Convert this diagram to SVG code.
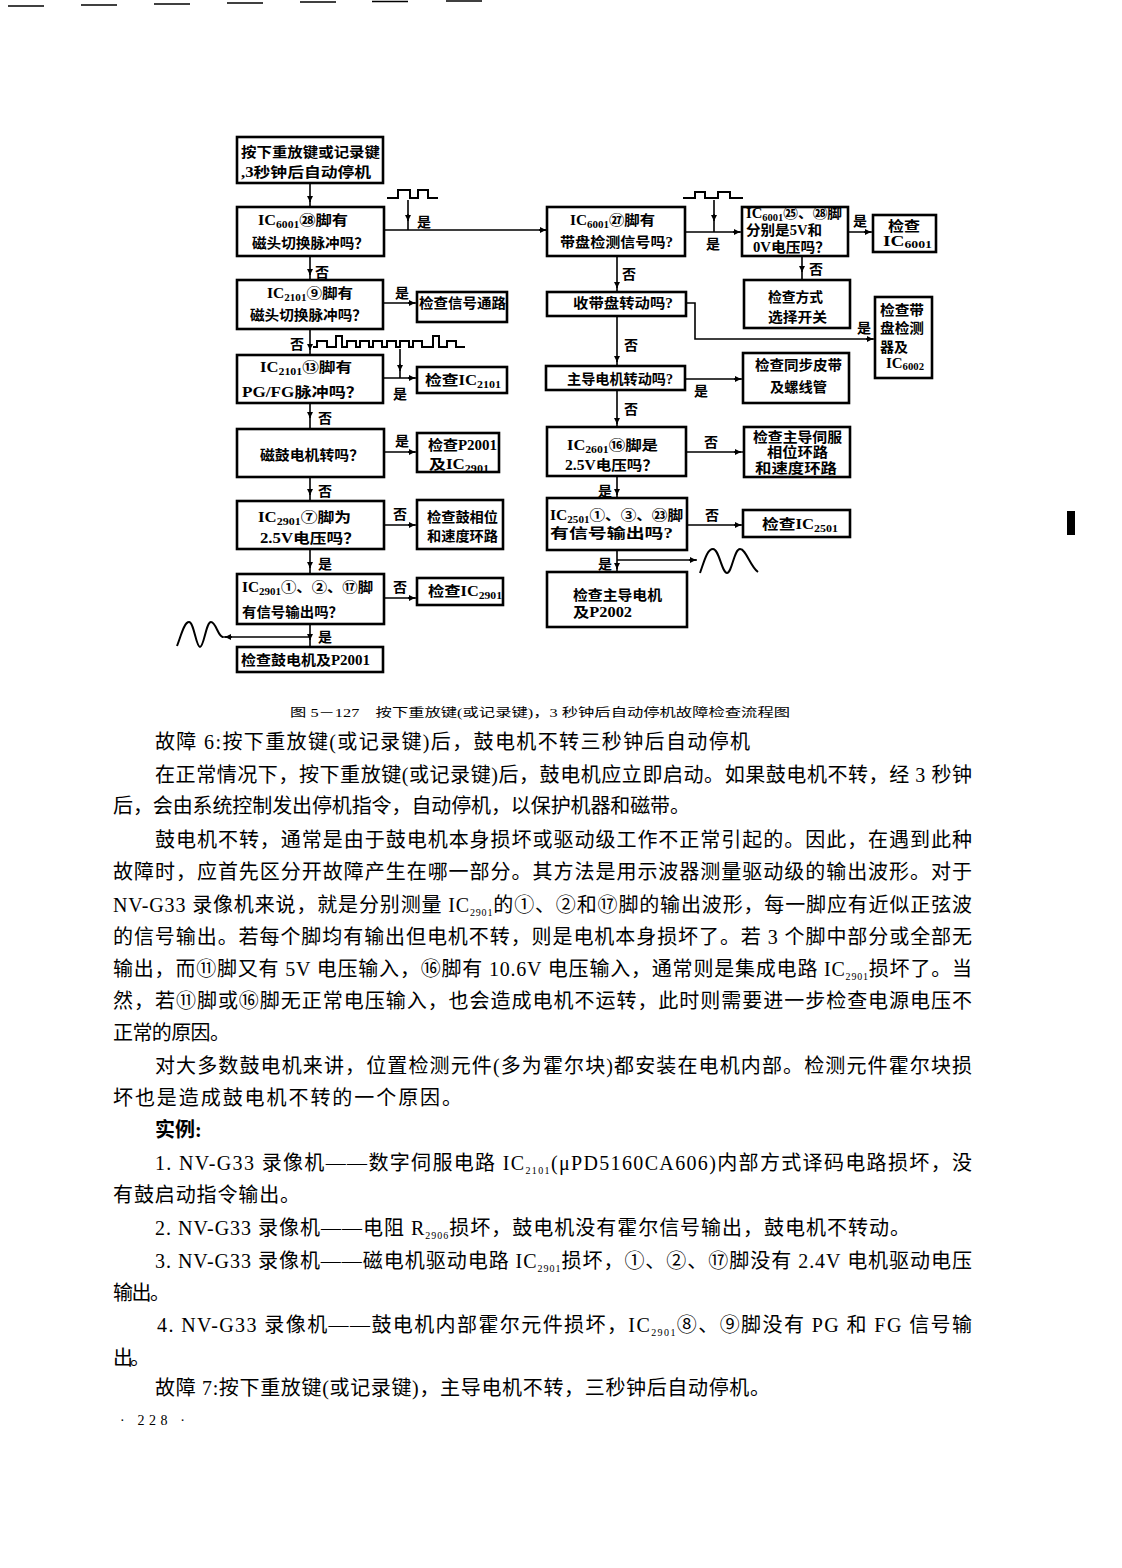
<svg xmlns="http://www.w3.org/2000/svg" width="1122" height="1568" viewBox="0 0 1122 1568">
<defs>
<marker id="ah" viewBox="0 0 10 10" refX="10" refY="5" markerWidth="7" markerHeight="6" orient="auto" markerUnits="userSpaceOnUse"><path d="M0,0 L10,5 L0,10 z" fill="#000"/></marker>
</defs>
<style>
.b{fill:#fff;stroke:#000;stroke-width:2.6}
.t{font-family:"Liberation Serif","Noto Sans CJK SC",serif;font-size:14px;font-weight:bold;fill:#000}
.l{font-family:"Noto Sans CJK SC",sans-serif;font-size:14px;font-weight:bold;fill:#000}
.c{fill:none;stroke:#000;stroke-width:1.6}
.w{fill:none;stroke:#000;stroke-width:2}
.a{fill:none;stroke:#000;stroke-width:1.6;marker-end:url(#ah)}
.p{font-family:"Liberation Serif","Noto Sans CJK SC",serif;font-size:20px;fill:#000}
.s{font-size:10px}
.ss{font-size:12px}
</style>
<rect width="1122" height="1568" fill="#fff"/>
<g id="topmarks" stroke="#000" stroke-width="1.5">
<line x1="8" y1="6" x2="44" y2="6"/><line x1="81" y1="5" x2="117" y2="5"/><line x1="154" y1="4" x2="190" y2="4"/><line x1="227" y1="3" x2="263" y2="3"/><line x1="300" y1="2" x2="336" y2="2"/><line x1="372" y1="1.5" x2="408" y2="1.5"/><line x1="446" y1="1" x2="482" y2="1"/>
</g>
<rect x="1067" y="511" width="8" height="24" fill="#000"/>

<g id="connectors">
<path class="c" d="M310 183V207M310 256V280M310 329V355M310 403V429M310 477V501M310 549V574M310 624V647"/>
<path class="a" d="M310 196V202"/><path class="a" d="M310 269V275"/><path class="a" d="M310 344V350"/><path class="a" d="M310 412V418"/><path class="a" d="M310 489V495"/><path class="a" d="M310 562V568"/><path class="a" d="M310 634V640"/>
<path class="c" d="M384 230H547M408 200V230"/>
<path class="a" d="M539 230H546"/><path class="a" d="M408 214V221"/>
<path class="c" d="M383 303H417M383 378H417M400 349V378M384 452H417M384 525H417M384 598H417"/>
<path class="a" d="M408 303H415"/><path class="a" d="M408 378H415"/><path class="a" d="M400 364V371"/><path class="a" d="M408 452H415"/><path class="a" d="M408 525H415"/><path class="a" d="M408 598H415"/>
<path class="c" d="M310 637H222"/><path class="a" d="M232 637H225"/>
<path class="c" d="M685 232H742M714 200V232M848 232H873M802 256V280M617 256V292M686 303H695V339H875M617 316V366M683 379H743M617 390V427M686 452H744M617 476V497M687 525H743M617 550V572M617 560H697"/>
<path class="a" d="M733 232H740"/><path class="a" d="M714 214V221"/><path class="a" d="M864 232H871"/><path class="a" d="M802 266V272"/><path class="a" d="M617 282V288"/><path class="a" d="M866 339H873"/><path class="a" d="M617 356V362"/><path class="a" d="M734 379H741"/><path class="a" d="M617 418V424"/><path class="a" d="M734 452H741"/><path class="a" d="M617 489V495"/><path class="a" d="M734 525H741"/><path class="a" d="M617 563V569"/><path class="a" d="M689 560H696"/>
<path class="w" d="M387 198H398V190H410V198H418V190H428V198H438"/>
<path class="w" d="M683 198H695V192H705V198H718V192H730V198H743"/>
<path class="w" d="M313 347H317V341H327V347H336V336H342V347H347V341H356V347H360V341H369V347H373V341H382V347H387V341H396V347H400V341H409V347H413V341H422V347H433V336H439V347H447V341H456V347H465"/>
<path class="w" d="M177 646C181 636 184 622 189 622C194 622 196 647 200 647C204 647 206 622 211 622C216 622 218 637 223 637"/>
<path class="w" d="M700 573C704 562 707 549 713 549C719 549 722 573 727 573C732 573 734 549 740 549C746 549 750 566 758 572"/>
<g class="l">
<text x="315" y="277">否</text>
<text x="417" y="227">是</text>
<text x="290" y="349">否</text>
<text x="393" y="399">是</text>
<text x="318" y="423">否</text>
<text x="395" y="298">是</text>
<text x="395" y="446">是</text>
<text x="318" y="496">否</text>
<text x="393" y="519">否</text>
<text x="318" y="569">是</text>
<text x="393" y="592">否</text>
<text x="318" y="642">是</text>
<text x="706" y="249">是</text>
<text x="853" y="226">是</text>
<text x="809" y="274">否</text>
<text x="622" y="279">否</text>
<text x="857" y="333">是</text>
<text x="624" y="350">否</text>
<text x="694" y="396">是</text>
<text x="624" y="414">否</text>
<text x="704" y="447">否</text>
<text x="598" y="496">是</text>
<text x="705" y="520">否</text>
<text x="598" y="569">是</text>
</g>
</g>

<g id="n1"><rect class="b" x="237" y="137" width="146" height="46"/><text class="t" x="241" y="157" textLength="139" lengthAdjust="spacingAndGlyphs">按下重放键或记录键</text><text class="t" x="241" y="177" textLength="130" lengthAdjust="spacingAndGlyphs">,3秒钟后自动停机</text></g>
<g id="n2"><rect class="b" x="237" y="207" width="147" height="49"/><text class="t" x="258" y="225" textLength="90" lengthAdjust="spacingAndGlyphs">IC<tspan class="s" dy="3">6001</tspan><tspan dy="-3">㉘脚有</tspan></text><text class="t" x="252" y="248" textLength="117" lengthAdjust="spacingAndGlyphs">磁头切换脉冲吗？</text></g>
<g id="n3"><rect class="b" x="237" y="280" width="146" height="49"/><text class="t" x="267" y="298" textLength="86" lengthAdjust="spacingAndGlyphs">IC<tspan class="s" dy="3">2101</tspan><tspan dy="-3">⑨脚有</tspan></text><text class="t" x="250" y="320" textLength="117" lengthAdjust="spacingAndGlyphs">磁头切换脉冲吗？</text></g>
<g id="n4"><rect class="b" x="237" y="355" width="146" height="48"/><text class="t" x="260" y="372" textLength="92" lengthAdjust="spacingAndGlyphs">IC<tspan class="s" dy="3">2101</tspan><tspan dy="-3">⑬脚有</tspan></text><text class="t" x="242" y="397" textLength="121" lengthAdjust="spacingAndGlyphs">PG/FG脉冲吗？</text></g>
<g id="n5"><rect class="b" x="237" y="429" width="147" height="48"/><text class="t" x="260" y="460" textLength="104" lengthAdjust="spacingAndGlyphs">磁鼓电机转吗？</text></g>
<g id="n6"><rect class="b" x="237" y="501" width="147" height="48"/><text class="t" x="258" y="522" textLength="93" lengthAdjust="spacingAndGlyphs">IC<tspan class="s" dy="3">2901</tspan><tspan dy="-3">⑦脚为</tspan></text><text class="t" x="260" y="543" textLength="100" lengthAdjust="spacingAndGlyphs">2.5V电压吗？</text></g>
<g id="n7"><rect class="b" x="237" y="574" width="147" height="50"/><text class="t" x="242" y="592" textLength="131" lengthAdjust="spacingAndGlyphs">IC<tspan class="s" dy="3">2901</tspan><tspan dy="-3">①、②、⑰脚</tspan></text><text class="t" x="242" y="617" textLength="101" lengthAdjust="spacingAndGlyphs">有信号输出吗？</text></g>
<g id="n8"><rect class="b" x="237" y="647" width="146" height="25"/><text class="t" x="241" y="665" textLength="129" lengthAdjust="spacingAndGlyphs">检查鼓电机及P2001</text></g>

<g id="c1"><rect class="b" x="417" y="292" width="90" height="30"/><text class="t" x="419" y="308" textLength="87" lengthAdjust="spacingAndGlyphs">检查信号通路</text></g>
<g id="c2"><rect class="b" x="417" y="367" width="90" height="26"/><text class="t" x="425" y="385" textLength="76" lengthAdjust="spacingAndGlyphs">检查IC<tspan class="s" dy="3">2101</tspan></text></g>
<g id="c3"><rect class="b" x="417" y="433" width="82" height="39"/><text class="t" x="428" y="450" textLength="69" lengthAdjust="spacingAndGlyphs">检查P2001</text><text class="t" x="429" y="469" textLength="60" lengthAdjust="spacingAndGlyphs">及IC<tspan class="s" dy="3">2901</tspan></text></g>
<g id="c4"><rect class="b" x="417" y="500" width="86" height="49"/><text class="t" x="427" y="522" textLength="71" lengthAdjust="spacingAndGlyphs">检查鼓相位</text><text class="t" x="427" y="541" textLength="71" lengthAdjust="spacingAndGlyphs">和速度环路</text></g>
<g id="c5"><rect class="b" x="417" y="578" width="86" height="27"/><text class="t" x="428" y="596" textLength="74" lengthAdjust="spacingAndGlyphs">检查IC<tspan class="s" dy="3">2901</tspan></text></g>

<g id="r1"><rect class="b" x="547" y="207" width="138" height="49"/><text class="t" x="570" y="225" textLength="85" lengthAdjust="spacingAndGlyphs">IC<tspan class="s" dy="3">6001</tspan><tspan dy="-3">㉗脚有</tspan></text><text class="t" x="560" y="247" textLength="113" lengthAdjust="spacingAndGlyphs">带盘检测信号吗?</text></g>
<g id="r2"><rect class="b" x="742" y="207" width="106" height="49"/><text class="t" x="746" y="218" textLength="96" lengthAdjust="spacingAndGlyphs">IC<tspan class="s" dy="3">6001</tspan><tspan dy="-3">㉕、㉘脚</tspan></text><text class="t" x="746" y="235" textLength="76" lengthAdjust="spacingAndGlyphs">分别是5V和</text><text class="t" x="753" y="252" textLength="77" lengthAdjust="spacingAndGlyphs">0V电压吗？</text></g>
<g id="r3"><rect class="b" x="873" y="215" width="63" height="37"/><text class="t" x="888" y="231" textLength="32" lengthAdjust="spacingAndGlyphs">检查</text><text class="t" x="883" y="246" textLength="49" lengthAdjust="spacingAndGlyphs">IC<tspan class="s" dy="2">6001</tspan></text></g>
<g id="r4"><rect class="b" x="744" y="280" width="106" height="48"/><text class="t" x="768" y="302" textLength="55" lengthAdjust="spacingAndGlyphs">检查方式</text><text class="t" x="768" y="322" textLength="59" lengthAdjust="spacingAndGlyphs">选择开关</text></g>
<g id="r5"><rect class="b" x="547" y="292" width="139" height="24"/><text class="t" x="573" y="308" textLength="100" lengthAdjust="spacingAndGlyphs">收带盘转动吗?</text></g>
<g id="r6"><rect class="b" x="875" y="297" width="57" height="81"/><text class="t" x="880" y="315" textLength="44" lengthAdjust="spacingAndGlyphs">检查带</text><text class="t" x="880" y="333" textLength="44" lengthAdjust="spacingAndGlyphs">盘检测</text><text class="t" x="880" y="352" textLength="28" lengthAdjust="spacingAndGlyphs">器及</text><text class="t" x="886" y="368" textLength="38" lengthAdjust="spacingAndGlyphs">IC<tspan class="s" dy="2">6002</tspan></text></g>
<g id="r7"><rect class="b" x="546" y="366" width="139" height="24"/><text class="t" x="567" y="384" textLength="106" lengthAdjust="spacingAndGlyphs">主导电机转动吗?</text></g>
<g id="r8"><rect class="b" x="743" y="353" width="106" height="50"/><text class="t" x="755" y="370" textLength="87" lengthAdjust="spacingAndGlyphs">检查同步皮带</text><text class="t" x="770" y="392" textLength="57" lengthAdjust="spacingAndGlyphs">及螺线管</text></g>
<g id="r9"><rect class="b" x="547" y="427" width="139" height="49"/><text class="t" x="567" y="450" textLength="91" lengthAdjust="spacingAndGlyphs">IC<tspan class="s" dy="3">2601</tspan><tspan dy="-3">⑯脚是</tspan></text><text class="t" x="565" y="470" textLength="93" lengthAdjust="spacingAndGlyphs">2.5V电压吗？</text></g>
<g id="r10"><rect class="b" x="744" y="427" width="106" height="50"/><text class="t" x="753" y="442" textLength="89" lengthAdjust="spacingAndGlyphs">检查主导伺服</text><text class="t" x="767" y="457" textLength="61" lengthAdjust="spacingAndGlyphs">相位环路</text><text class="t" x="755" y="473" textLength="82" lengthAdjust="spacingAndGlyphs">和速度环路</text></g>
<g id="r11"><rect class="b" x="547" y="498" width="140" height="52"/><text class="t" x="550" y="520" textLength="133" lengthAdjust="spacingAndGlyphs">IC<tspan class="s" dy="3">2501</tspan><tspan dy="-3">①、③、㉓脚</tspan></text><text class="t" x="550" y="538" textLength="123" lengthAdjust="spacingAndGlyphs">有信号输出吗?</text></g>
<g id="r12"><rect class="b" x="743" y="510" width="107" height="27"/><text class="t" x="762" y="529" textLength="76" lengthAdjust="spacingAndGlyphs">检查IC<tspan class="s" dy="3">2501</tspan></text></g>
<g id="r13"><rect class="b" x="547" y="572" width="140" height="55"/><text class="t" x="573" y="600" textLength="89" lengthAdjust="spacingAndGlyphs">检查主导电机</text><text class="t" x="573" y="617" textLength="59" lengthAdjust="spacingAndGlyphs">及P2002</text></g>

<g id="caption"><text x="290" y="717" textLength="500" lengthAdjust="spacingAndGlyphs" style="font-family:'Liberation Serif','Noto Sans CJK SC',serif;font-size:12px">图 5－127　按下重放键(或记录键)，3 秒钟后自动停机故障检查流程图</text></g>

<g id="body" class="p">
<text x="155" y="749" textLength="595" lengthAdjust="spacing">故障 6:按下重放键(或记录键)后，鼓电机不转三秒钟后自动停机</text>
<text x="155" y="782" textLength="817" lengthAdjust="spacing">在正常情况下，按下重放键(或记录键)后，鼓电机应立即启动。如果鼓电机不转，经 3 秒钟</text>
<text x="113" y="813" textLength="577" lengthAdjust="spacing">后，会由系统控制发出停机指令，自动停机，以保护机器和磁带。</text>
<text x="155" y="847" textLength="817" lengthAdjust="spacing">鼓电机不转，通常是由于鼓电机本身损坏或驱动级工作不正常引起的。因此，在遇到此种</text>
<text x="113" y="879" textLength="859" lengthAdjust="spacing">故障时，应首先区分开故障产生在哪一部分。其方法是用示波器测量驱动级的输出波形。对于</text>
<text x="113" y="912" textLength="859" lengthAdjust="spacing">NV-G33 录像机来说，就是分别测量 IC<tspan class="s" dy="4">2901</tspan><tspan dy="-4">的①、②和⑰脚的输出波形，每一脚应有近似正弦波</tspan></text>
<text x="113" y="944" textLength="859" lengthAdjust="spacing">的信号输出。若每个脚均有输出但电机不转，则是电机本身损坏了。若 3 个脚中部分或全部无</text>
<text x="113" y="976" textLength="859" lengthAdjust="spacing">输出，而⑪脚又有 5V 电压输入，⑯脚有 10.6V 电压输入，通常则是集成电路 IC<tspan class="s" dy="4">2901</tspan><tspan dy="-4">损坏了。当</tspan></text>
<text x="113" y="1008" textLength="859" lengthAdjust="spacing">然，若⑪脚或⑯脚无正常电压输入，也会造成电机不运转，此时则需要进一步检查电源电压不</text>
<text x="113" y="1040" textLength="117" lengthAdjust="spacing">正常的原因。</text>
<text x="155" y="1073" textLength="817" lengthAdjust="spacing">对大多数鼓电机来讲，位置检测元件(多为霍尔块)都安装在电机内部。检测元件霍尔块损</text>
<text x="113" y="1105" textLength="349" lengthAdjust="spacing">坏也是造成鼓电机不转的一个原因。</text>
<text x="155" y="1137" font-weight="bold">实例:</text>
<text x="155" y="1170" textLength="817" lengthAdjust="spacing">1. NV-G33 录像机——数字伺服电路 IC<tspan class="s" dy="4">2101</tspan><tspan dy="-4">(μPD5160CA606)内部方式译码电路损坏，没</tspan></text>
<text x="113" y="1202" textLength="187" lengthAdjust="spacing">有鼓启动指令输出。</text>
<text x="155" y="1235" textLength="755" lengthAdjust="spacing">2. NV-G33 录像机——电阻 R<tspan class="s" dy="4">2906</tspan><tspan dy="-4">损坏，鼓电机没有霍尔信号输出，鼓电机不转动。</tspan></text>
<text x="155" y="1268" textLength="817" lengthAdjust="spacing">3. NV-G33 录像机——磁电机驱动电路 IC<tspan class="s" dy="4">2901</tspan><tspan dy="-4">损坏，①、②、⑰脚没有 2.4V 电机驱动电压</tspan></text>
<text x="113" y="1300" textLength="57" lengthAdjust="spacing">输出。</text>
<text x="157" y="1332" textLength="815" lengthAdjust="spacing">4. NV-G33 录像机——鼓电机内部霍尔元件损坏，IC<tspan class="s" dy="4">2901</tspan><tspan dy="-4">⑧、⑨脚没有 PG 和 FG 信号输</tspan></text>
<text x="113" y="1365" textLength="37" lengthAdjust="spacing">出。</text>
<text x="155" y="1395" textLength="615" lengthAdjust="spacing">故障 7:按下重放键(或记录键)，主导电机不转，三秒钟后自动停机。</text>
<text x="120" y="1425" style="font-size:14px" textLength="65" lengthAdjust="spacing">· 228 ·</text>
</g>
</svg>
